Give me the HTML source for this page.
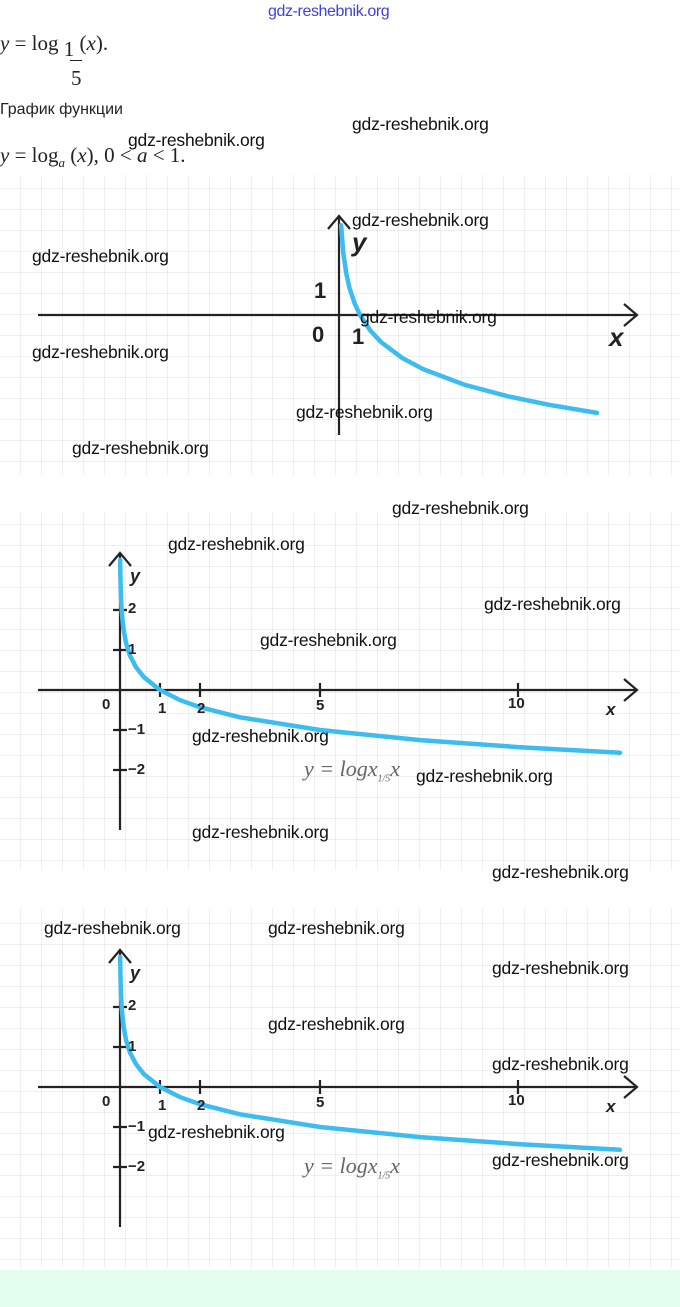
<!DOCTYPE html>
<html><head><meta charset="utf-8"><style>
body{margin:0;width:680px;height:1307px;background:#fff;position:relative;overflow:hidden;font-family:"Liberation Sans",sans-serif}
.t{position:absolute;white-space:nowrap}
.b{font-weight:bold}
.m{font-family:"Liberation Serif",serif;font-size:21px;color:#222}
.w{position:absolute;font-size:17.5px;color:#111;white-space:nowrap;letter-spacing:-0.2px}
svg{position:absolute;left:0;top:0}
</style></head><body>
<svg width="680" height="1307">
<defs>
<pattern id="g" width="21" height="21" patternUnits="userSpaceOnUse"><path d="M21 0V21H0" fill="none" stroke="#e4e4e4" stroke-width="1.2"/></pattern>
</defs>
<rect x="0" y="175" width="680" height="300" fill="url(#g)"/>
<rect x="0" y="512" width="680" height="358" fill="url(#g)"/>
<rect x="0" y="908" width="680" height="360" fill="url(#g)"/>
<rect x="0" y="1270" width="680" height="37" fill="#e2fcee"/>
<g stroke="#222" stroke-width="2.2" fill="none">
<path d="M38 315H636M624 304L637 315L624 326"/>
<path d="M339 435V217M328 229L339 216L350 229"/>
<path d="M38 690H636M624 679L637 690L624 701"/>
<path d="M120 830V554M109 566L120 553L131 566"/>
<path d="M160 683V697M200 683V697M320 683V697M518 683V697M113 610H127M113 650H127M113 730H127M113 770H127"/>
<path d="M38 1087H636M624 1076L637 1087L624 1098"/>
<path d="M120 1227V951M109 963L120 950L131 963"/>
<path d="M160 1080V1094M200 1080V1094M320 1080V1094M518 1080V1094M113 1007H127M113 1047H127M113 1127H127M113 1167H127"/>
</g>
<g stroke="#3cbcef" stroke-width="4.5" fill="none" stroke-linecap="round">
<path d="M341.1 225.2L343.2 252.2L346.4 274.1L349.5 288L354.8 303.8L360 315L370.5 330.8L381 342L402 357.8L423 369.1L465 384.9L507 396.1L549 404.8L597 412.9"/>
<path d="M120.2 560L120.4 575.6L120.8 592.8L121.6 610L123.2 627.2L126 642.9L130 655.6L136 667.2L144 677.3L160 690L180 700.1L200 707.2L240 717.3L320 730L420 740.1L520 747.2L620 752.8"/>
<path d="M120.2 957L120.4 972.6L120.8 989.8L121.6 1007L123.2 1024.2L126 1039.9L130 1052.6L136 1064.2L144 1074.3L160 1087L180 1097.1L200 1104.2L240 1114.3L320 1127L420 1137.1L520 1144.2L620 1149.8"/>
</g>
</svg>
<div class="t" style="left:268px;top:3px;font-size:16px;color:#4040e0;letter-spacing:-0.4px">gdz-reshebnik.org</div>
<div class="t m" style="left:0;top:31px"><i>y</i> = log <span style="position:relative;top:6px">1</span> (<i>x</i>).</div>
<div class="t" style="left:70px;top:60px;width:12px;border-top:1.5px solid #222"></div>
<div class="t m" style="left:71px;top:66px">5</div>
<div class="t" style="left:0;top:101px;font-size:16px;color:#222">График функции</div>
<div class="t m" style="left:0;top:143px"><i>y</i> = log<sub style="font-size:13px"><i>a</i></sub> (<i>x</i>), 0 &lt; <i>a</i> &lt; 1.</div>
<div class="t b" style="left:352px;top:227px;font-size:26px;font-style:italic;color:#222">y</div>
<div class="t b" style="left:314px;top:278px;font-size:22px;color:#222">1</div>
<div class="t b" style="left:312px;top:322px;font-size:22px;color:#222">0</div>
<div class="t b" style="left:352px;top:324px;font-size:22px;color:#222">1</div>
<div class="t b" style="left:609px;top:322px;font-size:26px;font-style:italic;color:#222">x</div>
<div class="t b" style="left:130px;top:566px;font-size:18px;font-style:italic;color:#222">y</div>
<div class="t b" style="left:128px;top:600px;font-size:15px;color:#222">2</div>
<div class="t b" style="left:128px;top:641px;font-size:15px;color:#222">1</div>
<div class="t b" style="left:102px;top:696px;font-size:15px;color:#222">0</div>
<div class="t b" style="left:158px;top:700px;font-size:15px;color:#222">1</div>
<div class="t b" style="left:197px;top:700px;font-size:15px;color:#222">2</div>
<div class="t b" style="left:316px;top:697px;font-size:15px;color:#222">5</div>
<div class="t b" style="left:508px;top:695px;font-size:15px;color:#222">10</div>
<div class="t b" style="left:606px;top:700px;font-size:17px;font-style:italic;color:#222">x</div>
<div class="t b" style="left:128px;top:721px;font-size:15px;color:#222">−1</div>
<div class="t b" style="left:128px;top:761px;font-size:15px;color:#222">−2</div>
<div class="t" style="left:304px;top:756px;font-family:'Liberation Serif',serif;font-size:22px;font-style:italic;color:#666">y = logx<sub style="font-size:10px">1/5</sub>x</div>
<div class="t b" style="left:130px;top:963px;font-size:18px;font-style:italic;color:#222">y</div>
<div class="t b" style="left:128px;top:997px;font-size:15px;color:#222">2</div>
<div class="t b" style="left:128px;top:1038px;font-size:15px;color:#222">1</div>
<div class="t b" style="left:102px;top:1093px;font-size:15px;color:#222">0</div>
<div class="t b" style="left:158px;top:1097px;font-size:15px;color:#222">1</div>
<div class="t b" style="left:197px;top:1097px;font-size:15px;color:#222">2</div>
<div class="t b" style="left:316px;top:1094px;font-size:15px;color:#222">5</div>
<div class="t b" style="left:508px;top:1092px;font-size:15px;color:#222">10</div>
<div class="t b" style="left:606px;top:1097px;font-size:17px;font-style:italic;color:#222">x</div>
<div class="t b" style="left:128px;top:1118px;font-size:15px;color:#222">−1</div>
<div class="t b" style="left:128px;top:1158px;font-size:15px;color:#222">−2</div>
<div class="t" style="left:304px;top:1153px;font-family:'Liberation Serif',serif;font-size:22px;font-style:italic;color:#666">y = logx<sub style="font-size:10px">1/5</sub>x</div>
<div class="w" style="left:352px;top:114px">gdz-reshebnik.org</div>
<div class="w" style="left:128px;top:130px">gdz-reshebnik.org</div>
<div class="w" style="left:352px;top:210px">gdz-reshebnik.org</div>
<div class="w" style="left:32px;top:246px">gdz-reshebnik.org</div>
<div class="w" style="left:360px;top:307px">gdz-reshebnik.org</div>
<div class="w" style="left:32px;top:342px">gdz-reshebnik.org</div>
<div class="w" style="left:296px;top:402px">gdz-reshebnik.org</div>
<div class="w" style="left:72px;top:438px">gdz-reshebnik.org</div>
<div class="w" style="left:392px;top:498px">gdz-reshebnik.org</div>
<div class="w" style="left:168px;top:534px">gdz-reshebnik.org</div>
<div class="w" style="left:484px;top:594px">gdz-reshebnik.org</div>
<div class="w" style="left:260px;top:630px">gdz-reshebnik.org</div>
<div class="w" style="left:192px;top:726px">gdz-reshebnik.org</div>
<div class="w" style="left:416px;top:766px">gdz-reshebnik.org</div>
<div class="w" style="left:192px;top:822px">gdz-reshebnik.org</div>
<div class="w" style="left:492px;top:862px">gdz-reshebnik.org</div>
<div class="w" style="left:44px;top:918px">gdz-reshebnik.org</div>
<div class="w" style="left:268px;top:918px">gdz-reshebnik.org</div>
<div class="w" style="left:492px;top:958px">gdz-reshebnik.org</div>
<div class="w" style="left:268px;top:1014px">gdz-reshebnik.org</div>
<div class="w" style="left:492px;top:1054px">gdz-reshebnik.org</div>
<div class="w" style="left:148px;top:1122px">gdz-reshebnik.org</div>
<div class="w" style="left:492px;top:1150px">gdz-reshebnik.org</div>
</body></html>
